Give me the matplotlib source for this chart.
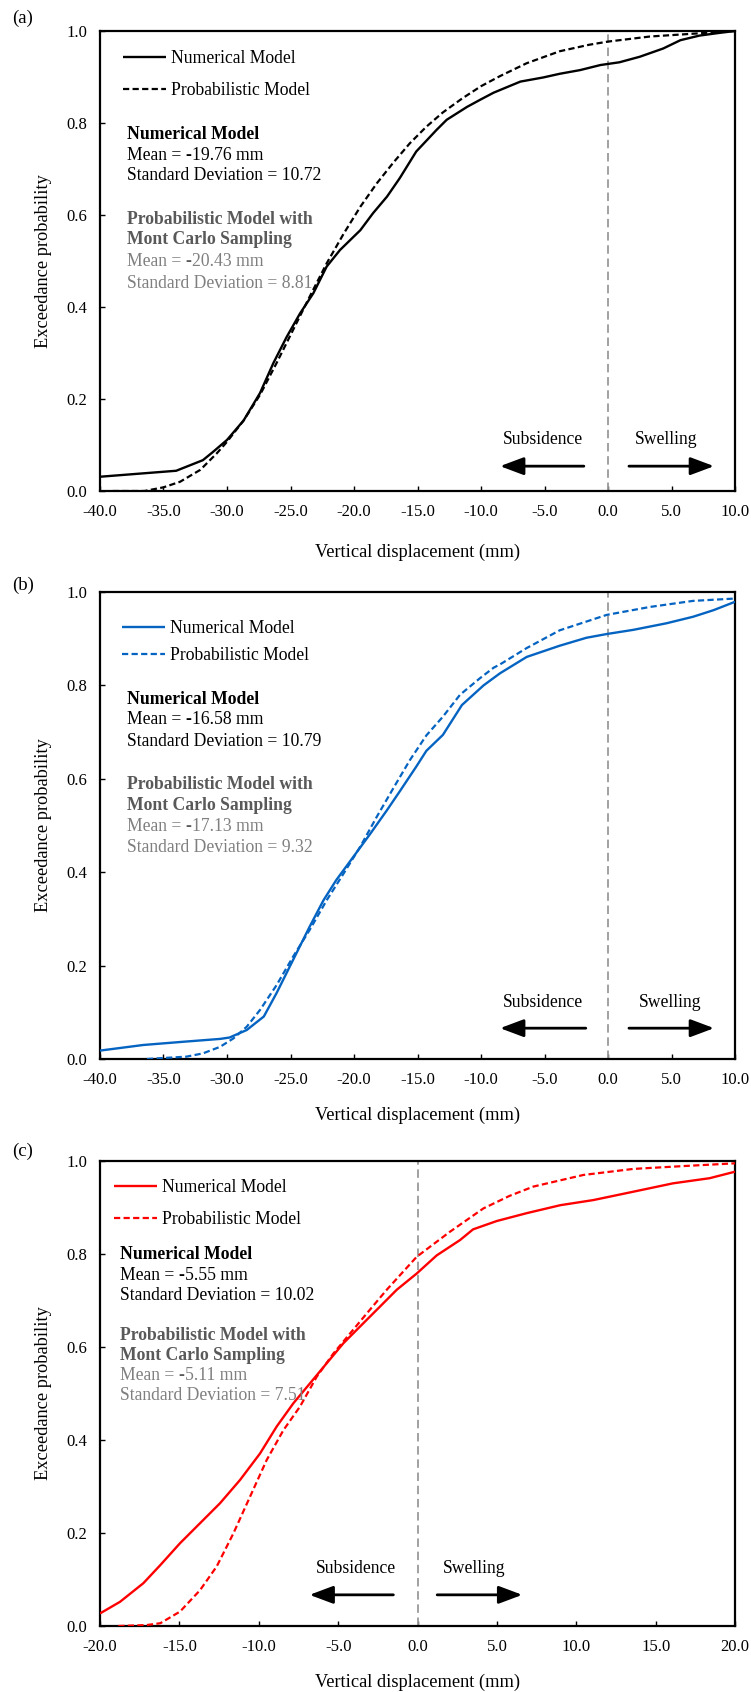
import matplotlib
matplotlib.use("Agg")
import matplotlib.pyplot as plt

plt.rcParams["font.family"] = ["Liberation Serif", "DejaVu Serif"]

W, H, DPI = 751, 1692, 100

# ---------------- data ----------------
# (a)
a_num_x = [-40, -34, -31.9, -31.1, -30, -28.7, -27.4, -26.35, -25.3, -24.25, -23.2, -22.15,
           -21.1, -19.5, -18.5, -17.4, -16.4, -15.1, -13.5, -12.7, -11.1, -10.1, -9, -6.9,
           -5.1, -3.8, -2.2, -0.6, 0.9, 2.5, 4.35, 5.7, 7.2, 8.8, 10]
a_num_p = [0.031, 0.044, 0.067, 0.085, 0.111, 0.153, 0.213, 0.278, 0.335, 0.386, 0.43, 0.488,
           0.524, 0.567, 0.604, 0.64, 0.68, 0.738, 0.785, 0.807, 0.835, 0.85, 0.866, 0.89,
           0.899, 0.907, 0.915, 0.926, 0.932, 0.944, 0.962, 0.98, 0.99, 0.996, 1.0]
a_prob_x = [-39, -36.5, -35, -33.7, -32.1, -30.8, -30, -28.7, -27.4, -26.1, -24.8, -23.5,
            -22.15, -20.8, -19.5, -18.2, -16.9, -15.6, -14.3, -13, -11.5, -10, -8.5, -6.4,
            -3.8, -1.5, 0, 3.3, 7.2, 10]
a_prob_p = [0.0, 0.0, 0.008, 0.02, 0.046, 0.082, 0.107, 0.153, 0.209, 0.278, 0.35, 0.422,
            0.495, 0.56, 0.618, 0.669, 0.714, 0.756, 0.792, 0.823, 0.853, 0.88, 0.902, 0.93,
            0.956, 0.97, 0.977, 0.988, 0.995, 1.0]

# (b)
b_num_x = [-40, -36.6, -33.4, -30.55, -29.8, -28.45, -27.1, -26.1, -24.8, -23.5, -22.4, -21.4,
           -20.05, -18.7, -17.4, -16.4, -15.1, -14.3, -13, -11.5, -9.8, -8.5, -6.4, -3.8,
           -1.7, -0.1, 2, 4.6, 6.7, 8.3, 10]
b_num_p = [0.018, 0.030, 0.037, 0.043, 0.046, 0.062, 0.091, 0.141, 0.212, 0.283, 0.34, 0.383,
           0.433, 0.483, 0.533, 0.573, 0.626, 0.66, 0.694, 0.758, 0.8, 0.826, 0.861, 0.885,
           0.902, 0.91, 0.919, 0.933, 0.947, 0.961, 0.979]
b_prob_x = [-36.3, -33.2, -31.9, -30.55, -29.5, -28.45, -27.4, -26.1, -24.8, -23.5, -22.15,
            -20.8, -19.5, -18.2, -16.9, -15.6, -14.3, -13, -11.65, -10.1, -9, -8.5, -6.4,
            -3.8, -0.1, 3.3, 6.7, 10]
b_prob_p = [0.0, 0.005, 0.012, 0.026, 0.044, 0.069, 0.105, 0.158, 0.219, 0.276, 0.34,
            0.398, 0.455, 0.519, 0.58, 0.64, 0.693, 0.733, 0.78, 0.815, 0.838, 0.845, 0.88,
            0.918, 0.951, 0.968, 0.981, 0.986]

# (c)
c_num_x = [-20, -18.74, -17.27, -16.2, -14.96, -13.7, -12.44, -11.18, -9.92, -8.87, -7.82,
           -6.77, -5.72, -4.67, -3.62, -2.36, -1.31, -0.05, 1.21, 2.68, 3.5, 5.0, 6.9, 9.0,
           11.08, 13.6, 16.1, 18.4, 20]
c_num_p = [0.027, 0.052, 0.092, 0.131, 0.178, 0.221, 0.264, 0.314, 0.371, 0.429, 0.479,
           0.522, 0.565, 0.608, 0.644, 0.687, 0.723, 0.758, 0.797, 0.83, 0.853, 0.871, 0.888,
           0.905, 0.916, 0.934, 0.952, 0.963, 0.977]
c_prob_x = [-18.85, -17.06, -16.2, -14.96, -13.7, -12.65, -11.6, -10.55, -9.5, -8.45, -7.4,
            -6.35, -5.3, -4.25, -3.2, -1.94, -0.05, 2.05, 4.15, 5.8, 7.3, 10.45, 13.6, 16.7, 20]
c_prob_p = [0.0, 0.002, 0.006, 0.031, 0.077, 0.128, 0.199, 0.278, 0.357, 0.421, 0.472,
            0.536, 0.586, 0.629, 0.672, 0.723, 0.794, 0.848, 0.898, 0.925, 0.945, 0.97,
            0.983, 0.989, 0.995]

y_ticks = [0.0, 0.2, 0.4, 0.6, 0.8, 1.0]
a_x_ticks = [-40, -35, -30, -25, -20, -15, -10, -5, 0, 5, 10]
c_x_ticks = [-20, -15, -10, -5, 0, 5, 10, 15, 20]

a_stats_num = ("-", "19.76", "10.72")
a_stats_prob = ("-", "20.43", "8.81")
b_stats_num = ("-", "16.58", "10.79")
b_stats_prob = ("-", "17.13", "9.32")
c_stats_num = ("-", "5.55", "10.02")
c_stats_prob = ("-", "5.11", "7.51")

# ---------------- drawing ----------------
fig = plt.figure(figsize=(W / DPI, H / DPI), dpi=DPI)
renderer = fig.canvas.get_renderer()

FS_TICK = 12
FS_TEXT = 12.7
FS_LABEL = 13.2
GREY_DARK = "#595959"
GREY_LIGHT = "#7f7f7f"


def px_rect(l, t, r, b):
    return [l / W, 1 - b / H, (r - l) / W, (b - t) / H]


def fx(x):
    return x / W


def fy(y):
    return 1 - y / H


def runs(x, y, pieces, size=FS_TEXT):
    """Draw consecutive text pieces on one baseline, starting at pixel x."""
    cur = x
    for s, weight, color in pieces:
        t = fig.text(fx(cur), fy(y), s, fontsize=size, fontweight=weight, color=color,
                     ha="left", va="center")
        cur += t.get_window_extent(renderer).width


def panel(rect, xlim, xticks, num, prob, color, stats_num, stats_prob, lay):
    ax = fig.add_axes(px_rect(*rect))
    ax.plot(num[0], num[1], color=color, lw=1.7, solid_capstyle="butt",
            label="Numerical Model", zorder=3)
    ax.plot(prob[0], prob[1], color=color, lw=1.6, ls=(0, (2.8, 1.5)),
            label="Probabilistic Model", zorder=3)
    ax.axvline(0, color="#9a9a9a", lw=1.3, ls=(0, (4.7, 2.6)), zorder=2)

    ax.set_xlim(*xlim)
    ax.set_ylim(0, 1)
    ax.set_xticks(xticks)
    ax.set_xticklabels([f"{v:.1f}" for v in xticks])
    ax.set_yticks(y_ticks)
    ax.set_yticklabels([f"{v:.1f}" for v in y_ticks])
    ax.tick_params(direction="in", length=3.5, width=1, labelsize=FS_TICK, pad=9,
                   top=False, right=False)
    for sp in ax.spines.values():
        sp.set_linewidth(1.6)

    ax.set_xlabel("Vertical displacement (mm)", fontsize=FS_LABEL)
    ax.xaxis.set_label_coords(0.5, (rect[3] - lay["xlabel_y"]) / (rect[3] - rect[1]))
    ax.xaxis.label.set_va("center")
    ax.set_ylabel("Exceedance probability", fontsize=FS_LABEL)
    ax.yaxis.set_label_coords((43 - rect[0]) / (rect[2] - rect[0]), 0.5)
    ax.yaxis.label.set_va("center")

    fig.text(fx(23), fy(lay["letter_y"]), lay["letter"], fontsize=13.5,
             ha="center", va="center")

    ax.legend(loc="upper left",
              bbox_to_anchor=(fx(lay["leg_x"]), fy(lay["leg_top"])),
              bbox_transform=fig.transFigure, frameon=False, fontsize=FS_TEXT,
              borderpad=0, borderaxespad=0, handlelength=2.45,
              handletextpad=0.25, labelspacing=lay["leg_sp"])

    sx = lay["stats_x"]
    ys = lay["stats_y"]
    runs(sx, ys[0], [("Numerical Model", "bold", "black")])
    runs(sx, ys[1], [("Mean = ", "normal", "black"), (stats_num[0], "bold", "black"),
                     (stats_num[1] + " mm", "normal", "black")])
    runs(sx, ys[2], [("Standard Deviation = " + stats_num[2], "normal", "black")])
    runs(sx, ys[3], [("Probabilistic Model with", "bold", GREY_DARK)])
    runs(sx, ys[4], [("Mont Carlo Sampling", "bold", GREY_DARK)])
    runs(sx, ys[5], [("Mean = ", "normal", GREY_LIGHT), (stats_prob[0], "bold", GREY_DARK),
                     (stats_prob[1] + " mm", "normal", GREY_LIGHT)])
    runs(sx, ys[6], [("Standard Deviation = " + stats_prob[2], "normal", GREY_LIGHT)])

    # subsidence / swelling arrows
    ay, ty = lay["arrow_y"], lay["arrow_text_y"]
    akw = dict(arrowstyle="-|>,head_length=0.8,head_width=0.3", lw=2.0,
               color="black", mutation_scale=18, shrinkA=0, shrinkB=0)
    ax.annotate("", xy=(lay["sub"][1], ay), xytext=(lay["sub"][0], ay),
                xycoords="axes fraction", textcoords="axes fraction", arrowprops=akw)
    ax.annotate("", xy=(lay["swe"][1], ay), xytext=(lay["swe"][0], ay),
                xycoords="axes fraction", textcoords="axes fraction", arrowprops=akw)
    ax.text(lay["sub_t"], ty, "Subsidence", transform=ax.transAxes, fontsize=FS_TEXT,
            ha="center", va="center")
    ax.text(lay["swe_t"], ty, "Swelling", transform=ax.transAxes, fontsize=FS_TEXT,
            ha="center", va="center")
    return ax


panel((100, 31, 735, 491), (-40, 10), a_x_ticks, (a_num_x, a_num_p), (a_prob_x, a_prob_p),
      "black", a_stats_num, a_stats_prob,
      dict(letter="(a)", letter_y=18, xlabel_y=552, leg_x=123, leg_top=50, leg_sp=0.86,
           stats_x=127, stats_y=[134, 155, 176, 219, 240, 261, 283],
           arrow_y=0.054, arrow_text_y=0.111, sub=(0.762, 0.630), swe=(0.833, 0.967),
           sub_t=0.697, swe_t=0.891))

panel((100, 592, 735, 1059), (-40, 10), a_x_ticks, (b_num_x, b_num_p), (b_prob_x, b_prob_p),
      "#0563c1", b_stats_num, b_stats_prob,
      dict(letter="(b)", letter_y=585, xlabel_y=1115, leg_x=122, leg_top=620, leg_sp=0.58,
           stats_x=127, stats_y=[699, 720, 741, 784, 805, 826, 848],
           arrow_y=0.066, arrow_text_y=0.12, sub=(0.765, 0.630), swe=(0.833, 0.967),
           sub_t=0.697, swe_t=0.898))

panel((100, 1161, 735, 1626), (-20, 20), c_x_ticks, (c_num_x, c_num_p), (c_prob_x, c_prob_p),
      "#ff0000", c_stats_num, c_stats_prob,
      dict(letter="(c)", letter_y=1151, xlabel_y=1682, leg_x=114, leg_top=1179, leg_sp=0.86,
           stats_x=120, stats_y=[1254, 1275, 1295, 1335, 1355, 1376, 1396],
           arrow_y=0.067, arrow_text_y=0.123, sub=(0.462, 0.330), swe=(0.531, 0.665),
           sub_t=0.403, swe_t=0.589))

fig.savefig("out.png", dpi=DPI)
